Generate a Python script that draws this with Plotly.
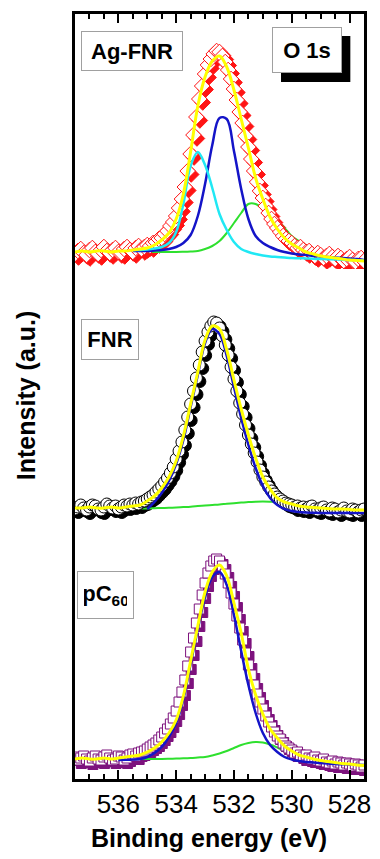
import numpy as np
import plotly.graph_objects as go

# ---------------- energy grids (eV) ----------------
E_DATA = np.round(np.arange(537.5, 527.45, -0.1), 2)       # measured points
E_FIT = np.round(np.arange(537.5, 527.45, -0.25), 2)       # envelope fits
E_AG_COMP = np.round(np.arange(535.5, 527.45, -0.25), 2)
E_FNR_BLUE = np.round(np.arange(535.0, 527.45, -0.25), 2)
E_FNR_GREEN = np.round(np.arange(535.25, 527.45, -0.25), 2)
E_PC_COMP = np.round(np.arange(536.0, 527.45, -0.25), 2)

# ---------------- Ag-FNR (a.u.) ----------------
AG_DATA = [15, 18, 20, 16, 14, 19, 21, 17, 15, 19, 22, 18, 16, 19, 21, 17, 16, 20, 22, 19,
           17, 21, 23, 20, 22, 24, 23, 26, 27, 30, 31, 35, 38, 43, 47, 53, 61, 70, 82, 98,
           115, 134, 152, 170, 183, 195, 204, 210, 215, 218, 217, 213, 207, 199, 190, 180, 169, 157, 146, 133,
           122, 110, 98, 87, 78, 71, 63, 56, 50, 45, 41, 37, 33, 30, 28, 26, 23, 21, 22, 19,
           17, 18, 15, 13, 16, 14, 11, 13, 15, 12, 10, 13, 11, 8, 10, 12, 9, 7, 10, 11,
           8]
AG_TOTAL = [17, 18, 17, 18, 18, 17, 18, 18, 19, 20, 21,
            24, 29, 36, 50, 75, 117, 163, 192, 208, 213, 202,
            179, 150, 121, 91, 70, 52, 40, 31, 25, 21, 17,
            15, 13, 12, 11, 10, 9, 8.5, 8]
AG_BLUE = [18, 18, 18, 18.5, 19, 20, 22, 26, 34, 53, 85, 124, 151, 150, 118, 80, 50,
           33, 26, 22, 19, 17, 15.5, 14.5, 14, 13, 12.5, 12, 11.5, 11, 10.5, 10, 9]
AG_CYAN = [19, 19, 19.5, 20.5, 22, 26, 37, 65, 103, 117, 104, 81, 55, 39, 27, 20, 17,
           15, 13.5, 12.5, 12, 11.5, 11, 10.8, 10.5, 10.2, 10, 9.8, 9.5, 9.2, 9, 8.8, 8.5]
AG_GREEN = [17, 17, 17, 17, 17, 17, 17, 17.2, 17.5, 18, 20, 23, 28, 36, 46, 56, 65,
            65, 60, 55, 48, 41, 33, 28, 23.5, 20, 17, 15, 13, 11.5, 10, 9, 8]

# ---------------- FNR (a.u.) ----------------
FNR_DATA = [15, 17, 19, 16, 14, 17, 19, 18, 15, 14, 17, 20, 18, 16, 18, 15, 17, 19, 18, 20,
            19, 21, 20, 22, 23, 25, 27, 29, 32, 35, 38, 42, 46, 51, 57, 65, 73, 82, 94, 107,
            120, 133, 146, 159, 172, 183, 192, 198, 202, 201, 196, 188, 179, 169, 157, 145, 133, 121, 110, 99,
            89, 80, 71, 62, 54, 47, 42, 37, 33, 30, 27, 25, 23, 21, 20, 19, 17, 18, 16, 17,
            15, 17, 18, 15, 14, 16, 17, 14, 13, 16, 15, 12, 14, 16, 13, 12, 15, 14, 12, 14,
            15]
FNR_TOTAL = [16, 16, 17, 16, 16, 17, 16, 17, 18, 19, 23,
             28, 36, 47, 63, 88, 120, 152, 184, 198, 195, 174,
             144, 115, 89, 66, 47, 35, 26, 22, 20, 18, 17,
             16.5, 16, 15.5, 15, 15, 14.5, 14, 14]
FNR_BLUE = [15, 22, 31, 43, 60, 84, 117, 149, 181, 195, 190, 168, 137, 106, 79, 56,
            38, 26, 19, 15, 13, 12, 11.5, 11.2, 11, 11, 11, 11, 11, 11, 11]
FNR_GREEN = [15.5, 15.6, 15.8, 16, 16.2, 16.5, 16.9, 17.3, 17.9, 18.5, 19, 19.5, 20.2, 20.8,
             21.4, 22, 22.3, 22.4, 22.3, 22, 21, 19.5, 18.2, 17, 16.2, 15.5, 15, 14.5, 14.2,
             14, 13.8, 13.5]

# ---------------- pC60 (a.u.) ----------------
PC_DATA = [22, 19, 21, 23, 20, 18, 21, 23, 20, 19, 22, 24, 21, 19, 20, 23, 22, 19, 21, 24,
           25, 23, 26, 27, 28, 30, 32, 34, 36, 39, 42, 46, 50, 55, 61, 68, 77, 87, 99, 113,
           127, 141, 156, 170, 184, 196, 206, 213, 218, 220, 218, 213, 205, 196, 186, 175, 163, 151, 139, 126,
           114, 104, 94, 85, 77, 70, 63, 57, 52, 47, 43, 40, 36, 33, 31, 29, 26, 27, 24, 22,
           24, 21, 20, 22, 19, 18, 20, 17, 16, 18, 15, 17, 16, 14, 16, 15, 13, 15, 14, 12,
           14]
PC_TOTAL = [20, 21, 20, 20, 21, 20, 21, 22, 23, 24, 27,
            31, 37, 46, 59, 83, 118, 153, 187, 207, 214, 203,
            176, 146, 110, 84, 65, 50, 41, 33, 28, 24, 22,
            20, 18.5, 17.5, 16.5, 15.5, 15, 14, 13.5]
PC_BLUE = [19, 19.2, 19.5, 20, 22, 26, 32, 42, 56, 80, 115, 150, 182, 202, 207, 194, 164,
           128, 94, 66, 46, 34, 27, 22, 19.5, 18, 17, 16.5, 16, 15.5, 15, 14.8, 14.5, 14.2, 14]
PC_GREEN = [20, 20, 20, 20, 20, 20, 20, 20.2, 20.5, 20.7, 21, 21.5, 22, 23.5, 25.5, 28, 31,
            34, 36, 37, 36.5, 34.5, 31.5, 28, 25, 22, 20, 18.5, 17.5, 16.8, 16, 15.2, 14.5,
            14, 13.5]

PANEL_LABELS = ["<b>Ag-FNR</b>", "<b>FNR</b>", "<b>pC<sub>60</sub></b>"]
X_TICKS = [536, 534, 532, 530, 528]

# ---------------- styles ----------------
YELLOW = "#ffff00"
BLUE = "#1414c8"
CYAN = "#20e8f4"
GREEN = "#2ee02e"
FONT = "Liberation Sans"

panels = [
    dict(E=E_DATA, data=AG_DATA, color="#ff1414", symbol="diamond", size=12,
         green=(E_AG_COMP, AG_GREEN),
         others=[(E_AG_COMP, AG_BLUE, BLUE, 2.5), (E_AG_COMP, AG_CYAN, CYAN, 2.5)],
         total=(E_FIT, AG_TOTAL)),
    dict(E=E_DATA, data=FNR_DATA, color="#000000", symbol="circle", size=12,
         green=(E_FNR_GREEN, FNR_GREEN),
         others=[(E_FNR_BLUE, FNR_BLUE, BLUE, 2.5)],
         total=(E_FIT, FNR_TOTAL)),
    dict(E=E_DATA, data=PC_DATA, color="#7d127d", symbol="square", size=10,
         green=(E_PC_COMP, PC_GREEN),
         others=[(E_PC_COMP, PC_BLUE, BLUE, 2.5)],
         total=(E_FIT, PC_TOTAL)),
]

XR = [537.5, 527.5]
YR = [0, 255]
SHIFT_X = 0.12  # shadow offset, eV (~3.5 px)
SHIFT_Y = 3.5   # shadow offset, a.u. (~3.5 px)
domains = [[2 / 3, 1], [1 / 3, 2 / 3], [0, 1 / 3]]


def aid(n):
    return "" if n == 1 else str(n)


fig = go.Figure()
layout = {}

for i, p in enumerate(panels):
    s, m = i + 1, i + 4
    xs, ys = "x" + aid(s), "y" + aid(s)
    xm, ym = "x" + aid(m), "y" + aid(m)

    # shadow (base subplot, drawn underneath)
    fig.add_trace(go.Scatter(x=p["E"], y=p["data"], mode="markers", xaxis=xs, yaxis=ys,
                             marker=dict(symbol=p["symbol"], size=p["size"], color=p["color"],
                                         line=dict(color=p["color"], width=1)),
                             showlegend=False, hoverinfo="skip"))
    # green component under data
    ge, gv = p["green"]
    fig.add_trace(go.Scatter(x=ge, y=gv, mode="lines", xaxis=xm, yaxis=ym,
                             line=dict(color=GREEN, width=2, shape="spline"), showlegend=False))
    # measured data (white-filled symbols)
    fig.add_trace(go.Scatter(x=p["E"], y=p["data"], mode="markers", xaxis=xm, yaxis=ym,
                             marker=dict(symbol=p["symbol"], size=p["size"], color="white",
                                         line=dict(color=p["color"], width=1)),
                             showlegend=False))
    for e, v, c, w in p["others"]:
        fig.add_trace(go.Scatter(x=e, y=v, mode="lines", xaxis=xm, yaxis=ym,
                                 line=dict(color=c, width=w, shape="spline"), showlegend=False))
    te, tv = p["total"]
    fig.add_trace(go.Scatter(x=te, y=tv, mode="lines", xaxis=xm, yaxis=ym,
                             line=dict(color=YELLOW, width=3, shape="spline"), showlegend=False))

    layout["xaxis" + aid(s)] = dict(domain=[0, 1], range=[XR[0] + SHIFT_X, XR[1] + SHIFT_X],
                                    visible=False, anchor=ys, fixedrange=True)
    layout["yaxis" + aid(s)] = dict(domain=domains[i], range=[YR[0] + SHIFT_Y, YR[1] + SHIFT_Y],
                                    visible=False, anchor=xs, fixedrange=True)
    xa = dict(overlaying=xs, anchor=ym, range=XR, showgrid=False, zeroline=False)
    if i == 0:
        xa.update(side="top", showline=True, linewidth=2.5, linecolor="black",
                  ticks="inside", ticklen=9, tickwidth=2, tickcolor="black",
                  tickmode="array", tickvals=X_TICKS, showticklabels=False,
                  minor=dict(dtick=0.5, tick0=528, ticks="inside", ticklen=5,
                             tickwidth=2, tickcolor="black", showgrid=False))
    elif i == 2:
        xa.update(side="bottom", showline=True, linewidth=2.5, linecolor="black",
                  ticks="inside", ticklen=9, tickwidth=2, tickcolor="black",
                  tickmode="array", tickvals=X_TICKS, ticktext=[str(t) for t in X_TICKS],
                  tickfont=dict(family=FONT, size=26, color="black"),
                  minor=dict(dtick=0.5, tick0=528, ticks="inside", ticklen=5,
                             tickwidth=2, tickcolor="black", showgrid=False))
    else:
        xa.update(visible=False)
    layout["xaxis" + aid(m)] = xa
    layout["yaxis" + aid(m)] = dict(overlaying=ys, anchor=xm, range=YR, showline=True,
                                    mirror=True, linewidth=2.5, linecolor="black",
                                    ticks="", showticklabels=False, showgrid=False,
                                    zeroline=False)

W, H = 380, 859
L, R, T, B = 75, 9, 14, 80
pw, ph = W - L - R, H - T - B


def px(xp):
    return (xp - L) / pw


def py(yp):
    return 1 - (yp - T) / ph


label_font = dict(family=FONT, size=22, color="black")
annotations = [
    dict(text="<b>O 1s</b>", x=px(313), y=py(50), width=56, height=32),
    dict(text=PANEL_LABELS[0], x=px(133), y=py(51), width=88, height=26),
    dict(text=PANEL_LABELS[1], x=px(111), y=py(339.5), width=44, height=27),
    dict(text=PANEL_LABELS[2], x=px(106.5), y=py(595), width=43, height=34),
]
ann = []
for a in annotations:
    a.update(xref="paper", yref="paper", xanchor="center", yanchor="middle", showarrow=False,
             borderpad=6, bgcolor="white", bordercolor="#a0a0a0", borderwidth=1, font=label_font)
    ann.append(a)
ann.append(dict(text="<b>Binding energy (eV)</b>", x=px(212), y=py(838), xref="paper",
                yref="paper", xanchor="center", yanchor="middle", showarrow=False,
                font=dict(family=FONT, size=25, color="black")))
ann.append(dict(text="<b>Intensity (a.u.)</b>", x=px(25), y=py(396), xref="paper",
                yref="paper", xanchor="center", yanchor="middle", showarrow=False,
                textangle=-90, font=dict(family=FONT, size=25, color="black")))

# black drop shadow behind the "O 1s" box (decoration)
shapes = [dict(type="rect", xref="paper", yref="paper", x0=px(286), x1=px(357),
               y0=py(82), y1=py(36), fillcolor="black", line=dict(width=0), layer="above")]

fig.update_layout(width=W, height=H, autosize=False,
                  margin=dict(l=L, r=R, t=T, b=B, pad=0),
                  paper_bgcolor="white", plot_bgcolor="rgba(0,0,0,0)",
                  showlegend=False, annotations=ann, shapes=shapes, **layout)

fig.write_html("out.html")
